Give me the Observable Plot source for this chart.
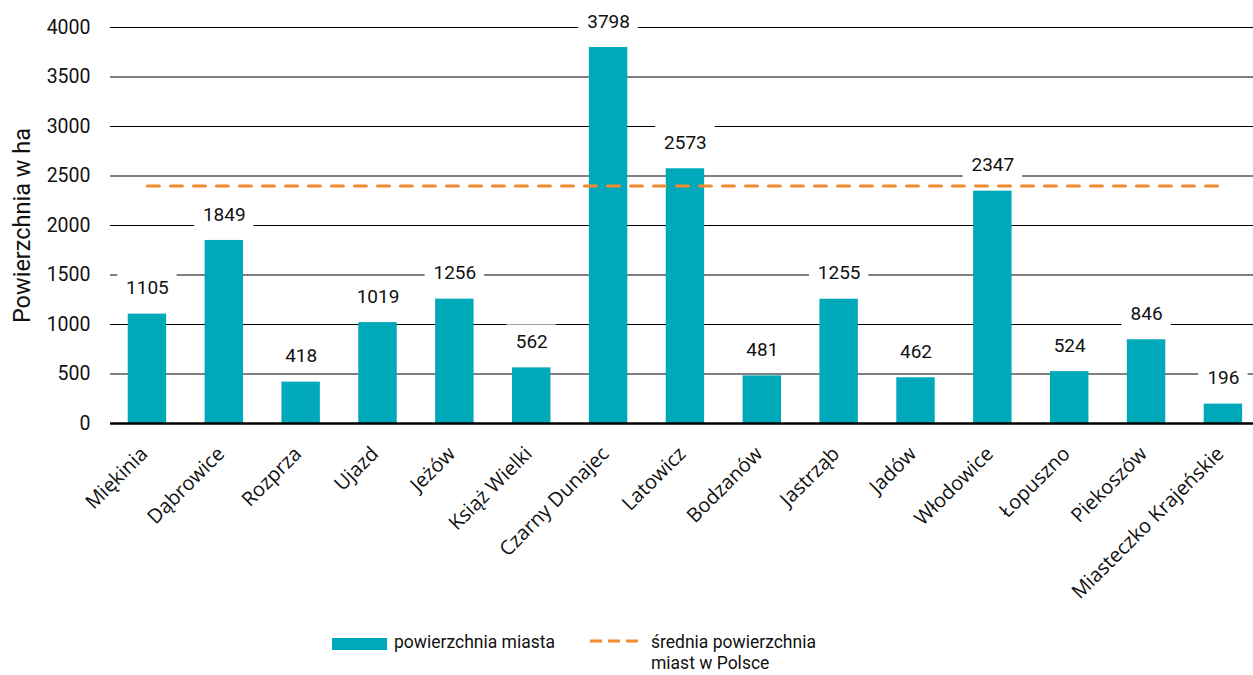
<!DOCTYPE html>
<html>
<head>
<meta charset="utf-8">
<script src="https://cdn.jsdelivr.net/npm/d3@7"></script>
<script src="https://cdn.jsdelivr.net/npm/@observablehq/plot@0.6"></script>
<style>
  html, body { margin: 0; padding: 0; background: #fff; }
  #wrap { position: relative; width: 1253px; height: 675px; overflow: hidden; font-family: Roboto, sans-serif; color: #111; }
  #legend { position: absolute; left: 0; top: 625px; width: 1253px; height: 50px; }
  .lg { position: absolute; }
  .lgtext { font-size: 17.5px; line-height: 21px; color: #111; }
</style>
</head>
<body>
<div id="wrap">
  <div id="chart"></div>
  <div id="legend">
    <div class="lg" style="left:332px; top:13px; width:55px; height:12px; background:#00A9B9;"></div>
    <div class="lg lgtext" style="left:394px; top:7px;">powierzchnia miasta</div>
    <svg class="lg" style="left:590px; top:12px;" width="50" height="8"><line x1="0" y1="4" x2="48" y2="4" stroke="#F28A30" stroke-width="3" stroke-dasharray="12,6"/></svg>
    <div class="lg lgtext" style="left:651px; top:7px;">średnia powierzchnia<br>miast w Polsce</div>
  </div>
</div>
<script>
const towns = ["Miękinia", "Dąbrowice", "Rozprza", "Ujazd", "Jeżów", "Książ Wielki", "Czarny Dunajec", "Latowicz", "Bodzanów", "Jastrząb", "Jadów", "Włodowice", "Łopuszno", "Piekoszów", "Miasteczko Krajeńskie"];
const areas = [1105, 1849, 418, 1019, 1256, 562, 3798, 2573, 481, 1255, 462, 2347, 524, 846, 196];
const polandAverage = 2400;
const yTicks = [0, 500, 1000, 1500, 2000, 2500, 3000, 3500, 4000];

const data = towns.map((t, i) => ({town: t, area: areas[i]}));
const avgLine = towns.map(t => ({town: t, value: polandAverage}));
const long = data.filter(d => String(d.area).length >= 4);
const short = data.filter(d => String(d.area).length < 4);

const teal = "#00A9B9";
const orange = "#F28A30";

const plot = Plot.plot({
  width: 1253,
  height: 625,
  marginLeft: 110,
  marginRight: 0,
  marginTop: 27,
  marginBottom: 202,
  style: {fontFamily: "Roboto, sans-serif", fontSize: "19px", color: "#111", background: "#fff"},
  x: {domain: towns, paddingInner: 0.5, paddingOuter: 0.186, align: 0.62, round: false, label: null},
  y: {domain: [0, 4000], label: null},
  marks: [
    Plot.ruleY(yTicks.slice(1), {stroke: "#000", strokeWidth: 1}),
    Plot.barY(data, {x: "town", y: "area", fill: teal}),
    Plot.barY(long, {x: "town", y1: "area", y2: "area", fill: "white", insetLeft: -10.5, insetRight: -10.5, insetTop: -43, insetBottom: 9}),
    Plot.barY(short, {x: "town", y1: "area", y2: "area", fill: "white", insetLeft: -5.5, insetRight: -5.5, insetTop: -43, insetBottom: 9}),
    Plot.text(data, {x: "town", y: "area", text: d => String(d.area), dy: -26, fontSize: 19, fill: "#111", fontFamily: "Roboto, sans-serif"}),
    Plot.lineY(avgLine, {x: "town", y: "value", stroke: orange, strokeWidth: 3, strokeDasharray: "12,11"}),
    Plot.ruleY([0], {stroke: "#000", strokeWidth: 2.5}),
    Plot.axisY({ticks: yTicks, tickFormat: d => String(d), tickSize: 0, tickPadding: 20, fontSize: 19.5, label: null}),
    Plot.text(["Powierzchnia w ha"], {frameAnchor: "left", textAnchor: "middle", dx: -88, rotate: -90, fontSize: 23.5, fill: "#111", fontFamily: "Roboto, sans-serif"}),
    Plot.axisX({tickSize: 0, tickRotate: -45, tickPadding: 10, dy: 17, dx: -3, fontSize: 20, fontFamily: "Open Sans, sans-serif", label: null})
  ]
});
document.getElementById("chart").appendChild(plot);
</script>
</body>
</html>
